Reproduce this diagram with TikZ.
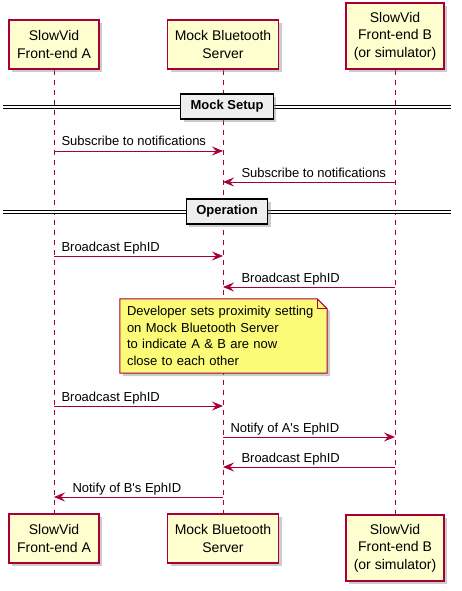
\documentclass[tikz,border=0pt]{standalone}
\usepackage{fontspec}
\setmainfont{Liberation Sans}
\usetikzlibrary{arrows.meta, positioning, calc, shadows, backgrounds}
\definecolor{umlred}{HTML}{A80036}
\definecolor{umlbox}{HTML}{FEFECE}
\definecolor{umlnote}{HTML}{FBFB77}
\definecolor{umlgrey}{HTML}{EEEEEE}

\begin{document}
\begin{tikzpicture}[
    x=1pt, y=-1pt,
    >={Stealth[length=11pt, width=9pt, inset=4pt]},
    partbox/.style={rectangle, draw=umlred, line width=1.3pt, fill=umlbox, align=center, inner sep=0pt, font=\fontsize{14}{17.5}\selectfont, drop shadow={shadow xshift=3pt, shadow yshift=-3pt, opacity=0.4}},
    divbox/.style={rectangle, draw=black, line width=1.5pt, fill=umlgrey, inner xsep=10pt, minimum height=25pt, font=\fontsize{13}{15}\selectfont\bfseries, drop shadow={shadow xshift=3pt, shadow yshift=-3pt, opacity=0.4}},
    divline/.style={double, double distance=2.5pt, line width=1pt, draw=black},
    lifeline/.style={draw=umlred, line width=1pt, dash pattern=on 5pt off 5pt},
    msg/.style={->, draw=umlred, line width=1pt},
    msgtext/.style={font=\fontsize{13}{15}\selectfont, inner sep=0pt},
    notetext/.style={rectangle, align=left, inner sep=7pt, font=\fontsize{13}{16.5}\selectfont},
    notebox/.style={draw=umlred, line width=1pt, fill=umlnote, drop shadow={shadow xshift=3pt, shadow yshift=-3pt, opacity=0.4}},
    notefold/.style={draw=umlred, line width=1pt}
]
\useasboundingbox (0,0) rectangle (462,591);

% =============================================================
% Participants (top and bottom)
% =============================================================
\node[partbox, minimum width=90pt, minimum height=49pt] (atop) at (54,44.5) {SlowVid\\Front-end A};
\node[partbox, minimum width=111pt, minimum height=49pt] (stop) at (223,44.5) {Mock Bluetooth\\Server};
\node[partbox, minimum width=98pt, minimum height=66pt] (btop) at (395,36) {SlowVid\\Front-end B\\(or simulator)};

\node[partbox, minimum width=90pt, minimum height=49pt] (abot) at (54,538.5) {SlowVid\\Front-end A};
\node[partbox, minimum width=111pt, minimum height=49pt] (sbot) at (223,538.5) {Mock Bluetooth\\Server};
\node[partbox, minimum width=98pt, minimum height=66pt] (bbot) at (395,548) {SlowVid\\Front-end B\\(or simulator)};

% Lifelines
\begin{scope}[on background layer]
\draw[lifeline] (atop.south) -- (abot.north);
\draw[lifeline] (stop.south) -- (sbot.north);
\draw[lifeline] (btop.south) -- (bbot.north);
\end{scope}

% =============================================================
% Mock Setup
% =============================================================
\coordinate (setupL) at (3,107);
\coordinate (setupR) at (451,107);
\draw[divline] (setupL) -- (setupR);
\node[divbox] (setup) at (227,106.5) {Mock Setup};

\draw[msg] (atop |- 0,151) -- node[msgtext, pos=0, anchor=base west, xshift=7pt, yshift=5pt] {Subscribe to notifications} (stop |- 0,151);
\draw[msg] (btop |- 0,182) -- node[msgtext, pos=1, anchor=base west, xshift=18pt, yshift=5pt] {Subscribe to notifications} (stop |- 0,182);

% =============================================================
% Operation
% =============================================================
\coordinate (operL) at (3,212);
\coordinate (operR) at (451,212);
\draw[divline] (operL) -- (operR);
\node[divbox] (oper) at (227,211.5) {Operation};

\draw[msg] (atop |- 0,256) -- node[msgtext, pos=0, anchor=base west, xshift=7pt, yshift=5pt] {Broadcast EphID} (stop |- 0,256);
\draw[msg] (btop |- 0,287) -- node[msgtext, pos=1, anchor=base west, xshift=18pt, yshift=5pt] {Broadcast EphID} (stop |- 0,287);

% Note over the server
\node[notetext, text width=193pt, minimum height=74pt] (devnote) at (223.5,336) {Developer sets proximity setting\\on Mock Bluetooth Server\\to indicate A \& B are now\\close to each other};
\begin{scope}[on background layer]
\draw[notebox] (devnote.north west) -- ([xshift=-10pt]devnote.north east) -- ([yshift=-10pt]devnote.north east) -- (devnote.south east) -- (devnote.south west) -- cycle;
\draw[notefold] ([xshift=-10pt]devnote.north east) |- ([yshift=-10pt]devnote.north east);
\end{scope}

\draw[msg] (atop |- 0,406) -- node[msgtext, pos=0, anchor=base west, xshift=7pt, yshift=5pt] {Broadcast EphID} (stop |- 0,406);
\draw[msg] (stop |- 0,437) -- node[msgtext, pos=0, anchor=base west, xshift=7pt, yshift=5pt] {Notify of A\textquotesingle s EphID} (btop |- 0,437);
\draw[msg] (btop |- 0,467) -- node[msgtext, pos=1, anchor=base west, xshift=18pt, yshift=5pt] {Broadcast EphID} (stop |- 0,467);
\draw[msg] (stop |- 0,497) -- node[msgtext, pos=1, anchor=base west, xshift=18pt, yshift=5pt] {Notify of B\textquotesingle s EphID} (atop |- 0,497);

\end{tikzpicture}
\end{document}
